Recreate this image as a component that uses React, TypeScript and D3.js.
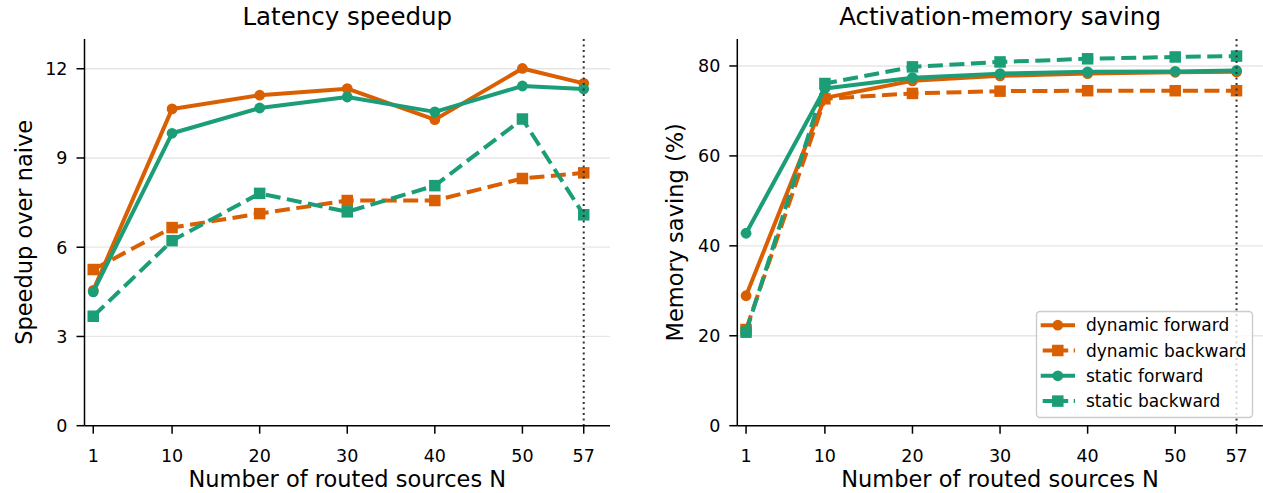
import React from "react";
import * as d3 from "d3";

// x values: number of routed sources
const sources = [1, 10, 20, 30, 40, 50, 57];
const xTickValues = [1, 10, 20, 30, 40, 50, 57];

// latency speedup over naive
const latDynFwd = [4.55, 10.65, 11.11, 11.33, 10.29, 12.01, 11.51];
const latDynBwd = [5.25, 6.66, 7.13, 7.57, 7.57, 8.31, 8.5];
const latStaFwd = [4.5, 9.83, 10.68, 11.05, 10.55, 11.42, 11.32];
const latStaBwd = [3.68, 6.22, 7.81, 7.19, 8.07, 10.31, 7.09];
const latTicks = [0, 3, 6, 9, 12];

// activation-memory saving (%)
const memDynFwd = [28.9, 72.9, 76.7, 77.8, 78.3, 78.6, 78.7];
const memDynBwd = [21.4, 72.7, 73.9, 74.4, 74.5, 74.5, 74.5];
const memStaFwd = [42.8, 75.0, 77.4, 78.3, 78.7, 78.8, 79.0];
const memStaBwd = [20.8, 76.1, 79.8, 80.9, 81.6, 82.0, 82.2];
const memTicks = [0, 20, 40, 60, 80];

const seriesNames = ["dynamic forward", "dynamic backward", "static forward", "static backward"];
const seriesColors = ["#d95f02", "#d95f02", "#1b9e77", "#1b9e77"];
const seriesDashed = [false, true, false, true];

const FONT = "DejaVu Sans, sans-serif";
const TOP = 39;
const BOTTOM = 425.7;
const AX_W = 525.5;
const LW = 4;
const DASH = "15,6.5";

const Marker = ({ square, x, y, color }) =>
  square ? (
    <rect x={x - 5.75} y={y - 5.75} width={11.5} height={11.5} fill={color} />
  ) : (
    <circle cx={x} cy={y} r={5.4} fill={color} />
  );

const Panel = ({ left, title, ylabel, ylabelX, yMax, yTicks, series, legend }) => {
  const x = d3.scaleLinear().domain([0, 60]).range([left, left + AX_W]);
  const y = d3.scaleLinear().domain([0, yMax]).range([BOTTOM, TOP]);
  const line = d3
    .line<number>()
    .x((_, i) => x(sources[i]))
    .y(d => y(d));
  const cx = left + AX_W / 2;

  return (
    <g>
      {/* grid */}
      {yTicks
        .filter(t => t > 0)
        .map(t => (
          <line key={t} x1={left} x2={left + AX_W} y1={y(t)} y2={y(t)} stroke="#e6e6e6" strokeWidth={1.3} />
        ))}

      {/* series */}
      {series.map((vals, si) => (
        <g key={si}>
          <path
            d={line(vals)}
            fill="none"
            stroke={seriesColors[si]}
            strokeWidth={LW}
            strokeDasharray={seriesDashed[si] ? DASH : undefined}
            strokeLinejoin="round"
          />
          {vals.map((v, i) => (
            <Marker key={i} square={seriesDashed[si]} x={x(sources[i])} y={y(v)} color={seriesColors[si]} />
          ))}
        </g>
      ))}

      {/* N = 57 marker line */}
      <line
        x1={x(57)}
        x2={x(57)}
        y1={TOP}
        y2={BOTTOM}
        stroke="#333"
        strokeWidth={2}
        strokeDasharray="2,3.5"
      />

      {/* spines */}
      <line x1={left} x2={left} y1={TOP} y2={BOTTOM} stroke="#000" strokeWidth={1.5} />
      <line x1={left} x2={left + AX_W} y1={BOTTOM} y2={BOTTOM} stroke="#000" strokeWidth={1.5} />

      {/* y ticks */}
      {yTicks.map(t => (
        <g key={t}>
          <line x1={left - 8} x2={left} y1={y(t)} y2={y(t)} stroke="#000" strokeWidth={1.5} />
          <text x={left - 17} y={y(t)} dy="0.36em" textAnchor="end" fontSize={17.5} fontFamily={FONT}>
            {t}
          </text>
        </g>
      ))}

      {/* x ticks */}
      {xTickValues.map(t => (
        <g key={t}>
          <line x1={x(t)} x2={x(t)} y1={BOTTOM} y2={BOTTOM + 8} stroke="#000" strokeWidth={1.5} />
          <text x={x(t)} y={462} textAnchor="middle" fontSize={17.5} fontFamily={FONT}>
            {t}
          </text>
        </g>
      ))}

      <text x={cx} y={25} textAnchor="middle" fontSize={24.5} fontFamily={FONT}>
        {title}
      </text>
      <text x={cx} y={487} textAnchor="middle" fontSize={22.5} fontFamily={FONT}>
        Number of routed sources N
      </text>
      <text
        transform={`translate(${ylabelX}, ${(TOP + BOTTOM) / 2}) rotate(-90)`}
        textAnchor="middle"
        fontSize={22.5}
        fontFamily={FONT}
      >
        {ylabel}
      </text>

      {legend && (
        <g>
          <rect x={1036.5} y={311.5} width={216} height={106} rx={3.5} fill="#fff" fillOpacity={0.8} stroke="#ccc" strokeWidth={1.4} />
          {seriesNames.map((name, i) => {
            const ly = 325.2 + i * 25.3;
            return (
              <g key={name}>
                <line
                  x1={1040.7}
                  x2={1075}
                  y1={ly}
                  y2={ly}
                  stroke={seriesColors[i]}
                  strokeWidth={LW}
                  strokeDasharray={seriesDashed[i] ? "10,5.5" : undefined}
                  strokeDashoffset={seriesDashed[i] ? -2 : 0}
                />
                <Marker square={seriesDashed[i]} x={1057.8} y={ly} color={seriesColors[i]} />
                <text x={1086} y={ly} dy="0.36em" fontSize={17} fontFamily={FONT} fill="#000">
                  {name}
                </text>
              </g>
            );
          })}
        </g>
      )}
    </g>
  );
};

const App = () => (
  <svg
    width={1263}
    height={493}
    style={{ position: "absolute", left: 0, top: 0, display: "block", background: "#fff" }}
  >
    <Panel
      left={84.5}
      title="Latency speedup"
      ylabel="Speedup over naive"
      ylabelX={32}
      yMax={13}
      yTicks={latTicks}
      series={[latDynFwd, latDynBwd, latStaFwd, latStaBwd]}
      legend={false}
    />
    <Panel
      left={737.3}
      title="Activation-memory saving"
      ylabel="Memory saving (%)"
      ylabelX={683}
      yMax={86}
      yTicks={memTicks}
      series={[memDynFwd, memDynBwd, memStaFwd, memStaBwd]}
      legend={true}
    />
  </svg>
);

export default App;
